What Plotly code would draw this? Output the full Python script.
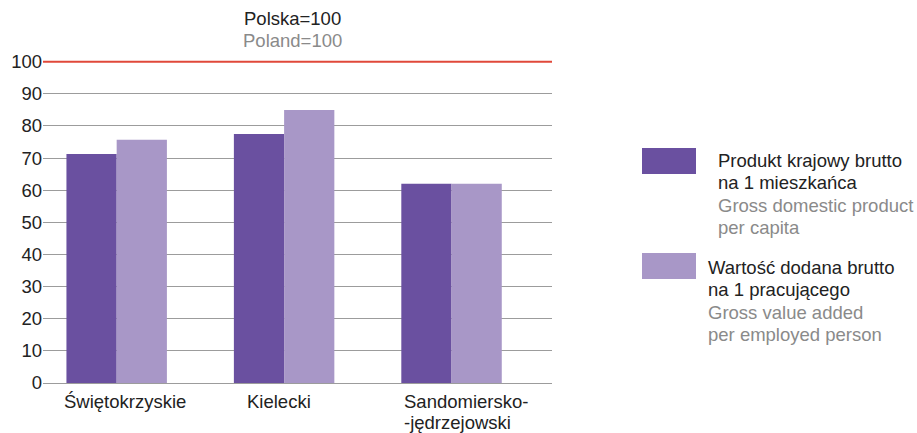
import plotly.graph_objects as go

# Regions and index values (Poland = 100)
regions = ["Świętokrzyskie", "Kielecki", "Sandomiersko-jędrzejowski"]
region_labels = [["Świętokrzyskie"], ["Kielecki"], ["Sandomiersko-", "-jędrzejowski"]]
gdp_per_capita = [71.3, 77.5, 62.0]
gva_per_employed = [75.7, 85.0, 62.0]
y_ticks = [0, 10, 20, 30, 40, 50, 60, 70, 80, 90, 100]
reference_level = 100

DARK = "#6A50A0"
LIGHT = "#A897C7"
TEXT = "#222222"
GREY_TEXT = "#8A8A8A"
FONT = "Liberation Sans, Arial, sans-serif"
FS = 18.5

W, H = 917, 433
L, R, T, B = 43, 365, 58, 50
PW, PH = W - L - R, H - T - B
Y_TOP = 101.15  # small headroom so the reference line is not clipped


def px_x(x):
    return (x - L) / PW


def px_y(y):
    return (H - B - y) / PH


fig = go.Figure()
fig.add_bar(x=regions, y=gdp_per_capita, marker=dict(color=DARK, line_width=0),
            name="Produkt krajowy brutto na 1 mieszkańca", showlegend=False)
fig.add_bar(x=regions, y=gva_per_employed, marker=dict(color=LIGHT, line_width=0),
            name="Wartość dodana brutto na 1 pracującego", showlegend=False)

# National reference line
fig.add_shape(type="line", xref="paper", yref="y", x0=0, x1=1,
              y0=reference_level, y1=reference_level,
              line=dict(color="#E0483A", width=2), layer="above")

# Title
fig.add_annotation(xref="paper", yref="paper", x=px_x(292), y=px_y(19),
                   text="Polska=100", showarrow=False, yanchor="middle",
                   font=dict(family=FONT, size=FS, color=TEXT), xanchor="center")
fig.add_annotation(xref="paper", yref="paper", x=px_x(292), y=px_y(41),
                   text="Poland=100", showarrow=False, yanchor="middle",
                   font=dict(family=FONT, size=FS, color=GREY_TEXT), xanchor="center")

# Category labels under the bars (one annotation per text line)
label_style = [("center", 8), ("center", -5), ("left", -49)]
for cat, lab_lines, (anchor, shift) in zip(regions, region_labels, label_style):
    for i, s in enumerate(lab_lines):
        fig.add_annotation(xref="x", yref="y", x=cat, y=0, text=s, showarrow=False,
                           xanchor=anchor, yanchor="middle", borderpad=0,
                           xshift=shift, yshift=-18 - 21.5 * i,
                           font=dict(family=FONT, size=FS, color=TEXT))

# Legend drawn by hand: swatch + Polish (dark) and English (grey) lines
legend_items = [
    (DARK, ["Produkt krajowy brutto", "na 1 mieszkańca"],
     ["Gross domestic product", "per capita"], 148, 716, 160),
    (LIGHT, ["Wartość dodana brutto", "na 1 pracującego"],
     ["Gross value added", "per employed person"], 253, 706, 267),
]
for color, pl, en, top, tx, ty in legend_items:
    fig.add_shape(type="rect", xref="paper", yref="paper",
                  x0=px_x(642), x1=px_x(696),
                  y0=px_y(top + 26), y1=px_y(top),
                  fillcolor=color, line_width=0)
    lines = [(s, TEXT) for s in pl] + [(s, GREY_TEXT) for s in en]
    for i, (s, c) in enumerate(lines):
        fig.add_annotation(xref="paper", yref="paper",
                           x=px_x(tx), y=px_y(ty + 22.5 * i),
                           xanchor="left", yanchor="middle", showarrow=False,
                           text=s, font=dict(family=FONT, size=FS, color=c))

fig.update_layout(
    width=W, height=H,
    margin=dict(l=L, r=R, t=T, b=B),
    paper_bgcolor="white", plot_bgcolor="white",
    barmode="group", bargap=0.4, bargroupgap=0,
    font=dict(family=FONT, size=FS, color=TEXT),
    showlegend=False,
)
fig.update_xaxes(range=[-0.44, 2.6], showgrid=False, showline=False, ticks="",
                 showticklabels=False, fixedrange=True)
fig.update_yaxes(range=[0, Y_TOP], tickvals=y_ticks, showgrid=True, gridcolor="#9C9C9C",
                 gridwidth=1, zeroline=True, zerolinecolor="#9C9C9C", zerolinewidth=1,
                 showline=False, ticks="",
                 tickfont=dict(family=FONT, size=FS, color=TEXT), fixedrange=True)

fig.write_html("out.html")
